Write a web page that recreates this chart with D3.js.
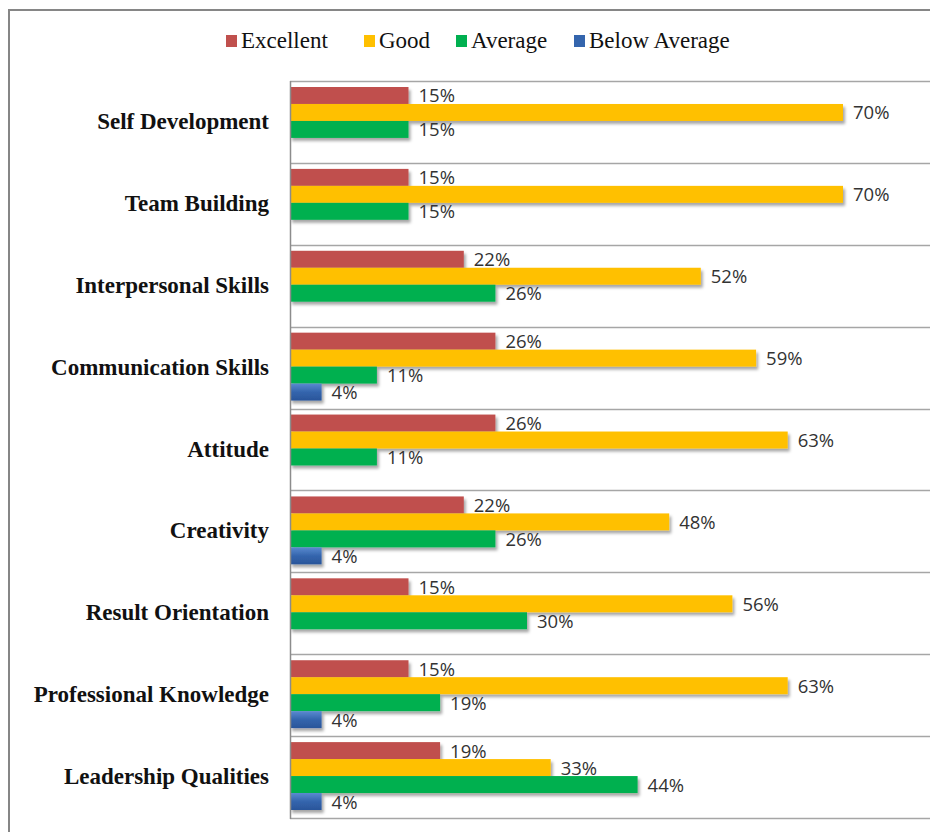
<!DOCTYPE html>
<html>
<head>
<meta charset="utf-8">
<script src="https://cdn.jsdelivr.net/npm/d3@7"></script>
<style>
  body { margin: 0; background: #fff; }
</style>
</head>
<body>
<svg id="chart"></svg>
<script>
/* Data Setup */
const categories = ['Self Development', 'Team Building', 'Interpersonal Skills', 'Communication Skills',
    'Attitude', 'Creativity', 'Result Orientation', 'Professional Knowledge', 'Leadership Qualities'];
const seriesNames = ['Excellent', 'Good', 'Average', 'Below Average'];
const excellent = [15, 15, 22, 26, 26, 22, 15, 15, 19];
const good = [70, 70, 52, 59, 63, 48, 56, 63, 33];
const average = [15, 15, 26, 11, 11, 26, 30, 19, 44];
const belowAverage = [null, null, null, 4, null, 4, null, 4, 4];
const seriesValues = [excellent, good, average, belowAverage];
const colors = ['#c0504d', '#ffc000', '#00b050', '#3465ad'];

/* Layout */
const W = 930, H = 832;
const plot = { left: 290, right: 922, top: 81, bottom: 818 };

const svg = d3.select('#chart').attr('width', W).attr('height', H);

/* shadow + blue gloss */
const defs = svg.append('defs');
const f = defs.append('filter').attr('id', 'shadow')
    .attr('x', '-10%').attr('y', '-30%').attr('width', '130%').attr('height', '190%');
f.append('feDropShadow').attr('dx', 2).attr('dy', 3).attr('stdDeviation', 1.5)
    .attr('flood-color', '#000').attr('flood-opacity', 0.35);
const g4 = defs.append('linearGradient').attr('id', 'blueGrad')
    .attr('x1', 0).attr('y1', 0).attr('x2', 0).attr('y2', 1);
g4.append('stop').attr('offset', '0%').attr('stop-color', '#5a8ad0');
g4.append('stop').attr('offset', '50%').attr('stop-color', '#3465ad');
g4.append('stop').attr('offset', '100%').attr('stop-color', '#2a559a');

/* outer frame */
svg.append('path')
    .attr('d', `M9,${H + 5} V10 H${W + 5}`)
    .attr('fill', 'none').attr('stroke', '#868686').attr('stroke-width', 2);

/* Scales */
const x = d3.scaleLinear().domain([0, 80]).range([plot.left, plot.right]);
const y0 = d3.scaleBand().domain(categories).range([plot.top, plot.bottom]).paddingInner(0).paddingOuter(0);
const y1 = d3.scaleBand().domain(seriesNames).range([6, y0.bandwidth() - 8]).padding(0);

/* band separators */
const sepYs = categories.map(c => y0(c)).concat([plot.bottom]);
svg.append('g').selectAll('line')
    .data(sepYs)
    .join('line')
    .attr('x1', plot.left).attr('x2', W)
    .attr('y1', d => Math.round(d) + 0.5).attr('y2', d => Math.round(d) + 0.5)
    .attr('stroke', '#a6a6a6').attr('stroke-width', 1.3);

/* bars */
const rows = categories.map((c, i) => ({
    cat: c,
    vals: seriesNames.map((s, j) => ({ key: s, j: j, value: seriesValues[j][i] }))
}));

const grp = svg.append('g').selectAll('g')
    .data(rows)
    .join('g')
    .attr('transform', d => `translate(0,${y0(d.cat)})`);

grp.selectAll('rect')
    .data(d => d.vals.filter(v => v.value != null))
    .join('rect')
    .attr('x', x(0))
    .attr('y', d => y1(d.key))
    .attr('width', d => x(d.value) - x(0))
    .attr('height', y1.bandwidth())
    .attr('fill', d => d.j === 3 ? 'url(#blueGrad)' : colors[d.j])
    .attr('filter', 'url(#shadow)');

grp.selectAll('text')
    .data(d => d.vals.filter(v => v.value != null))
    .join('text')
    .attr('x', d => x(d.value) + 10)
    .attr('y', d => y1(d.key) + y1.bandwidth() / 2 + 7)
    .style('font-family', '"Open Sans", sans-serif')
    .style('font-size', '18.5px')
    .style('fill', '#333')
    .text(d => d.value + '%');

/* left axis line */
svg.append('line')
    .attr('x1', plot.left + 0.5).attr('x2', plot.left + 0.5)
    .attr('y1', plot.top).attr('y2', plot.bottom + 1)
    .attr('stroke', '#8c8c8c').attr('stroke-width', 1.5);

/* category labels */
svg.append('g').selectAll('text')
    .data(categories)
    .join('text')
    .attr('x', 269)
    .attr('y', d => y0(d) + y0.bandwidth() / 2 + 7)
    .attr('text-anchor', 'end')
    .style('font-family', '"Liberation Serif", "Times New Roman", serif')
    .style('font-weight', 'bold')
    .style('font-size', '23px')
    .style('fill', '#111')
    .text(d => d);

/* legend */
const legendX = [226, 364, 456, 574];
const leg = svg.append('g').selectAll('g')
    .data(seriesNames)
    .join('g')
    .attr('transform', (d, i) => `translate(${legendX[i]},41)`);
leg.append('rect')
    .attr('x', 0).attr('y', -6).attr('width', 11).attr('height', 12)
    .attr('fill', (d, i) => colors[i]);
leg.append('text')
    .attr('x', 15).attr('y', 7)
    .style('font-family', '"Liberation Serif", "Times New Roman", serif')
    .style('font-size', '23px')
    .style('fill', '#111')
    .text(d => d);
</script>
</body>
</html>
